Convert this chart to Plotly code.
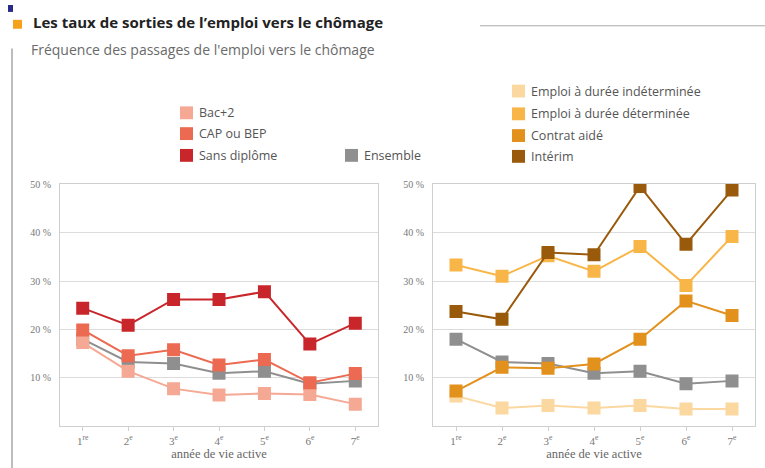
import plotly.graph_objects as go

W, H = 765, 468

years = [1, 2, 3, 4, 5, 6, 7]
year_labels = ["1<sup>re</sup>", "2<sup>e</sup>", "3<sup>e</sup>", "4<sup>e</sup>",
               "5<sup>e</sup>", "6<sup>e</sup>", "7<sup>e</sup>"]
y_ticks = [10, 20, 30, 40, 50]
y_tick_labels = ["10 %", "20 %", "30 %", "40 %", "50 %"]

# Left panel: by diploma
bac2 = [17.3, 11.4, 7.8, 6.5, 6.8, 6.6, 4.6]
cap_bep = [19.9, 14.6, 15.8, 12.7, 13.8, 9.0, 10.9]
sans_diplome = [24.4, 20.9, 26.2, 26.2, 27.8, 17.0, 21.3]
ensemble = [18.0, 13.3, 13.0, 11.0, 11.4, 8.8, 9.4]

# Right panel: by contract type
edi = [6.3, 3.8, 4.3, 3.8, 4.3, 3.6, 3.6]
edd = [33.3, 31.0, 35.2, 32.0, 37.1, 29.1, 39.2]
contrat_aide = [7.3, 12.2, 12.0, 12.9, 18.0, 25.9, 22.9]
interim = [23.7, 22.1, 35.9, 35.4, 49.5, 37.6, 48.8]

C_BAC2, C_CAP, C_SANS, C_ENS = "#f5a893", "#ec6a52", "#c9262b", "#8f8f8f"
C_EDI, C_EDD, C_AIDE, C_INT = "#fcd8a1", "#f8b648", "#e2911d", "#9a5a0c"

left_series = [
    ("Ensemble", ensemble, C_ENS),
    ("Bac+2", bac2, C_BAC2),
    ("CAP ou BEP", cap_bep, C_CAP),
    ("Sans diplôme", sans_diplome, C_SANS),
]
right_series = [
    ("Ensemble", ensemble, C_ENS),
    ("Emploi à durée indéterminée", edi, C_EDI),
    ("Contrat aidé", contrat_aide, C_AIDE),
    ("Emploi à durée déterminée", edd, C_EDD),
    ("Intérim", interim, C_INT),
]

title = "Les taux de sorties de l’emploi vers le chômage"
subtitle = "Fréquence des passages de l'emploi vers le chômage"
x_title = "année de vie active"

fig = go.Figure()

for name, vals, col in left_series:
    fig.add_trace(go.Scatter(
        x=years, y=vals, name=name, mode="lines+markers",
        line=dict(color=col, width=2),
        marker=dict(symbol="square", size=13, color=col),
        xaxis="x", yaxis="y", showlegend=False))
for name, vals, col in right_series:
    fig.add_trace(go.Scatter(
        x=years, y=vals, name=name, mode="lines+markers",
        line=dict(color=col, width=2),
        marker=dict(symbol="square", size=13, color=col),
        xaxis="x2", yaxis="y2", showlegend=False))


def px(x):
    return x / W


def py(y):
    return 1 - y / H


y_dom = [py(426), py(181)]
axis_font = dict(family="Liberation Serif", size=11, color="#777777")

common_x = dict(range=[0.5, 7.5], tickvals=years, ticktext=year_labels,
                showgrid=False, showline=True, linecolor="#cfcfcf", linewidth=1,
                mirror=True, ticks="outside", ticklen=4, tickcolor="#cfcfcf",
                tickfont=axis_font, zeroline=False,
                title=dict(text=x_title,
                           font=dict(family="Liberation Serif", size=12.5, color="#666666"),
                           standoff=3))
common_y = dict(range=[0, 50], tickvals=y_ticks, ticktext=y_tick_labels,
                showgrid=True, gridcolor="#dcdcdc", gridwidth=1,
                showline=True, linecolor="#cfcfcf", linewidth=1, mirror=True,
                ticks="", ticklabelstandoff=6,
                tickfont=dict(family="Liberation Serif", size=10, color="#777777"),
                zeroline=False)

fig.update_layout(
    width=W, height=H,
    margin=dict(l=0, r=0, t=0, b=0),
    paper_bgcolor="white", plot_bgcolor="white",
    xaxis=dict(domain=[px(60), px(378)], anchor="y", **common_x),
    yaxis=dict(domain=y_dom, anchor="x", **common_y),
    xaxis2=dict(domain=[px(433), px(755)], anchor="y2", **common_x),
    yaxis2=dict(domain=y_dom, anchor="x2", **common_y),
)

shapes = []
annotations = []

# decorative blue mark top-left
shapes.append(dict(type="rect", xref="paper", yref="paper",
                   x0=px(8), x1=px(13), y0=py(7), y1=py(0),
                   fillcolor="#2a2a8a", line=dict(width=0)))
# title square
shapes.append(dict(type="rect", xref="paper", yref="paper",
                   x0=px(13), x1=px(22), y0=py(24), y1=py(15),
                   fillcolor="#f5a11c", line=dict(width=0)))
# title rule
shapes.append(dict(type="line", xref="paper", yref="paper",
                   x0=px(480), x1=1, y0=py(21), y1=py(21),
                   line=dict(color="#aaaaaa", width=1)))
# left vertical rule
shapes.append(dict(type="line", xref="paper", yref="paper",
                   x0=px(12), x1=px(12), y0=py(44), y1=0,
                   line=dict(color="#bdbdbd", width=2)))

DY = 3  # annotation vertical correction (text box metrics)
annotations.append(dict(text=f"<b>{title}</b>", xref="paper", yref="paper",
                        x=px(31), y=py(20 - DY), xanchor="left", yanchor="middle",
                        showarrow=False,
                        font=dict(family="Open Sans", size=15, color="#222222")))
annotations.append(dict(text=subtitle, xref="paper", yref="paper",
                        x=px(29), y=py(48 - DY), xanchor="left", yanchor="middle",
                        showarrow=False,
                        font=dict(family="Open Sans", size=14, color="#6a6a6a")))

legend_items = [
    ("Bac+2", C_BAC2, 180, 112),
    ("CAP ou BEP", C_CAP, 180, 133),
    ("Sans diplôme", C_SANS, 180, 155),
    ("Ensemble", C_ENS, 345, 155),
    ("Emploi à durée indéterminée", C_EDI, 512, 90),
    ("Emploi à durée déterminée", C_EDD, 512, 113),
    ("Contrat aidé", C_AIDE, 512, 135),
    ("Intérim", C_INT, 512, 156),
]
for text, col, lx, ly in legend_items:
    ly = ly - DY
    shapes.append(dict(type="rect", xref="paper", yref="paper",
                       x0=px(lx), x1=px(lx + 13), y0=py(ly + 6.5), y1=py(ly - 6.5),
                       fillcolor=col, line=dict(width=0)))
    annotations.append(dict(text=text, xref="paper", yref="paper",
                            x=px(lx + 17), y=py(ly), xanchor="left", yanchor="middle",
                            showarrow=False,
                            font=dict(family="Open Sans", size=12.5, color="#555555")))

fig.update_layout(shapes=shapes, annotations=annotations)

fig.write_html(
    "out.html",
    config={"displayModeBar": False},
    post_script="document.body.style.margin='0';document.body.style.overflow='hidden';",
)
